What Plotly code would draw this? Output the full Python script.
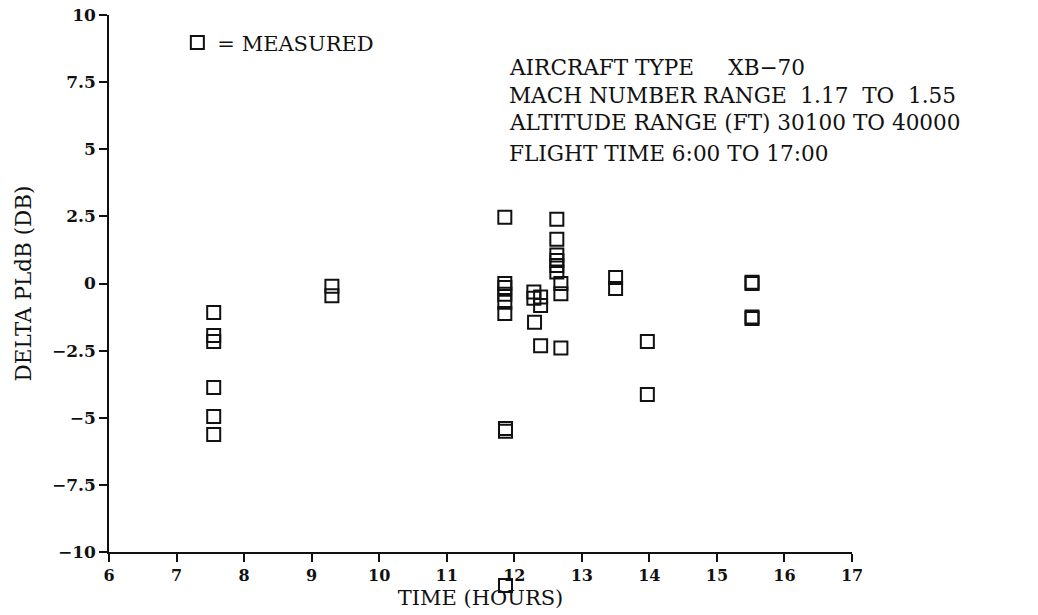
import plotly.graph_objects as go

# Measured delta PLdB values versus time of day (hours)
time_hours = [
    7.55, 7.55, 7.55, 7.55, 7.55, 7.55,
    9.30, 9.30,
    11.86, 11.86, 11.86, 11.86, 11.86, 11.86, 11.87, 11.87, 11.87,
    12.29, 12.29, 12.39, 12.39, 12.30, 12.39,
    12.63, 12.63, 12.63, 12.63, 12.63, 12.63,
    12.69, 12.69, 12.69,
    13.50, 13.50,
    13.97, 13.97,
    15.52, 15.52, 15.52, 15.52,
]
delta_pldb = [
    -1.08, -1.94, -2.16, -3.87, -4.95, -5.62,
    -0.10, -0.46,
    2.47, 0.00, -0.15, -0.40, -0.70, -1.12, -5.40, -5.50, -11.25,
    -0.32, -0.55, -0.50, -0.82, -1.44, -2.32,
    2.39, 1.65, 1.06, 0.86, 0.67, 0.43,
    0.00, -0.38, -2.40,
    0.22, -0.19,
    -2.16, -4.13,
    0.05, 0.00, -1.25, -1.30,
]

x_ticks = [6, 7, 8, 9, 10, 11, 12, 13, 14, 15, 16, 17]
y_ticks = [-10, -7.5, -5, -2.5, 0, 2.5, 5, 7.5, 10]
y_tick_text = ["\u221210", "\u22127.5", "\u22125", "\u22122.5", "0", "2.5", "5", "7.5", "10"]

info_lines = [
    "AIRCRAFT TYPE\u00a0\u00a0\u00a0\u00a0\u00a0XB\u221270",
    "MACH NUMBER RANGE\u00a0\u00a01.17\u00a0\u00a0TO\u00a0\u00a01.55",
    "ALTITUDE RANGE (FT) 30100 TO 40000",
    "FLIGHT TIME 6:00 TO 17:00",
]
info_y = [0.9111, 0.8632, 0.8154, 0.7641]

FONT = "DejaVu Serif"
INK = "#111111"

# Plot frame: the drawn axes cover y in [-10, 10]; a hidden companion axis
# with the same scale extends below the x-axis so readings under -10 still show.
Y_MIN, Y_MAX = -10.0, 10.0
PLOT_TOP, AXIS_BOTTOM, FRAME_BOTTOM = 15, 552, 600
FIG_H = 615
px_per_unit = (AXIS_BOTTOM - PLOT_TOP) / (Y_MAX - Y_MIN)
y_ext_min = Y_MIN - (FRAME_BOTTOM - AXIS_BOTTOM) / px_per_unit
main_domain_bottom = (FRAME_BOTTOM - AXIS_BOTTOM) / (FRAME_BOTTOM - PLOT_TOP)

inside = [(t, v) for t, v in zip(time_hours, delta_pldb) if v >= Y_MIN]
below = [(t, v) for t, v in zip(time_hours, delta_pldb) if v < Y_MIN]

marker = dict(symbol="square-open", size=13, color=INK, line=dict(width=2, color=INK))

fig = go.Figure()
fig.add_trace(go.Scatter(
    x=[p[0] for p in inside], y=[p[1] for p in inside],
    mode="markers", name="= MEASURED", marker=marker,
    xaxis="x", yaxis="y",
))
fig.add_trace(go.Scatter(
    x=[p[0] for p in below], y=[p[1] for p in below],
    mode="markers", name="= MEASURED", marker=marker, showlegend=False,
    xaxis="x2", yaxis="y2",
))

for text, yy in zip(info_lines, info_y):
    fig.add_annotation(
        text=text, xref="paper", yref="paper", x=0.535, y=yy,
        xanchor="left", yanchor="middle", showarrow=False,
        font=dict(family=FONT, size=21.6, color=INK),
    )

axis_common = dict(showgrid=False, zeroline=False, showline=True,
                   linecolor=INK, linewidth=1.5, ticks="outside",
                   ticklen=8, tickwidth=1.5, tickcolor=INK)

fig.update_layout(
    width=1038, height=FIG_H,
    margin=dict(l=109, r=186, t=PLOT_TOP, b=FIG_H - FRAME_BOTTOM),
    paper_bgcolor="white", plot_bgcolor="rgba(0,0,0,0)",
    font=dict(family=FONT, color=INK),
    showlegend=True,
    legend=dict(x=0.092, y=0.9875, xanchor="left", yanchor="top",
                bgcolor="rgba(0,0,0,0)",
                font=dict(family=FONT, size=21, color=INK)),
    xaxis=dict(
        range=[6, 17], domain=[0, 1], anchor="y",
        tickvals=x_ticks, ticktext=[str(v) for v in x_ticks],
        tickfont=dict(family=FONT, size=16, color=INK, weight="bold"),
        title=dict(text="TIME (HOURS)", standoff=6,
                   font=dict(family=FONT, size=21, color=INK)),
        automargin=False,
        **axis_common,
    ),
    yaxis=dict(
        range=[Y_MIN, Y_MAX], domain=[main_domain_bottom, 1], anchor="x",
        tickvals=y_ticks, ticktext=y_tick_text,
        tickfont=dict(family=FONT, size=17, color=INK, weight="bold"),
        title=dict(text="DELTA PLdB (DB)", standoff=14,
                   font=dict(family=FONT, size=21.5, color=INK)),
        automargin=False,
        **axis_common,
    ),
    xaxis2=dict(range=[6, 17], domain=[0, 1], anchor="y2", visible=False),
    yaxis2=dict(range=[y_ext_min, Y_MAX], domain=[0, 1], anchor="x2", visible=False),
)

fig.write_html("out.html")
